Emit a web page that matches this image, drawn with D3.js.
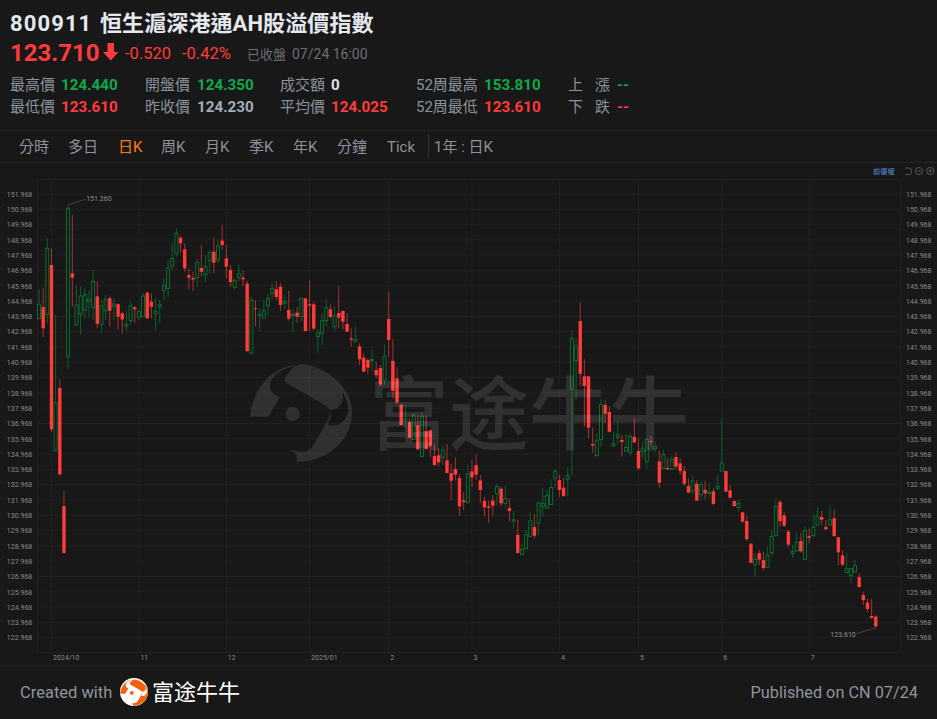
<!DOCTYPE html>
<html><head><meta charset="utf-8">
<style>html,body{margin:0;padding:0;background:#181818;overflow:hidden}svg{display:block}
text{font-family:Roboto,"Noto Sans CJK TC",sans-serif}</style>
<script src="https://cdn.jsdelivr.net/npm/d3@7/dist/d3.min.js"></script></head><body><svg id="c" width="937" height="719"></svg>
<script>
const highs=[145.74,145.84,149.07,148.42,144.06,139.85,132.55,151.26,150.60,146.02,
145.91,145.80,145.69,147.00,146.24,145.04,145.37,145.26,145.15,144.82,
144.28,144.34,144.93,144.65,144.49,145.52,145.58,145.47,145.15,145.04,
146.46,147.65,148.79,149.72,149.22,148.74,147.11,146.89,147.76,148.63,
147.98,148.31,149.14,149.00,149.94,148.63,147.33,146.46,147.37,147.00,
146.30,145.26,145.04,144.50,145.04,145.43,146.17,146.28,146.13,145.37,
145.65,144.50,144.60,145.15,145.15,146.30,144.93,143.14,144.17,145.08,
144.76,144.60,145.96,144.39,144.17,143.19,143.34,142.21,141.55,141.23,
141.77,141.01,140.79,142.14,145.58,142.47,140.64,138.29,138.18,137.30,
137.63,137.52,137.74,137.47,136.54,135.63,135.34,135.50,135.63,134.32,
134.75,133.67,132.51,134.32,134.58,134.95,133.60,132.18,131.92,132.29,
133.01,132.84,132.90,132.07,131.25,130.66,129.13,130.00,131.20,131.05,
131.86,132.73,132.68,133.32,133.99,133.64,133.40,134.14,143.08,142.53,
144.89,141.16,140.05,136.69,136.32,138.55,138.50,138.11,136.43,137.13,
136.21,136.28,136.32,137.30,136.00,135.78,135.93,136.15,135.82,135.17,
135.24,134.69,134.91,135.08,134.69,134.19,133.38,133.56,133.27,133.23,
133.23,133.06,132.73,133.60,137.26,133.86,132.95,131.97,131.97,131.20,
130.92,129.18,128.48,128.70,128.59,128.92,130.01,132.08,131.97,131.20,
130.01,129.03,129.85,129.83,130.22,130.11,131.05,131.49,131.25,130.66,
131.57,131.36,129.53,128.70,128.48,127.50,128.04,127.17,125.97,125.54,
125.50,124.44];
const lows=[143.80,142.60,143.51,136.43,135.15,133.58,128.48,140.51,144.60,143.38,
142.79,143.84,143.84,143.73,143.19,142.86,143.73,143.30,143.73,143.08,
142.86,142.97,143.40,143.51,143.73,143.93,143.80,143.84,143.03,143.51,
144.99,145.21,147.00,147.87,148.09,146.89,145.69,145.63,145.91,146.56,
146.24,146.78,146.78,147.48,148.31,146.46,145.91,145.69,146.24,145.95,
141.66,141.55,143.34,142.97,143.84,144.02,145.08,145.04,144.32,144.43,
143.69,142.95,143.56,143.62,142.99,143.01,143.08,141.60,142.10,143.30,
143.84,142.97,143.19,143.12,142.95,141.99,142.30,140.79,140.31,140.20,
140.36,139.92,139.37,139.48,141.34,138.61,138.24,136.85,136.69,136.00,
135.89,135.23,134.78,135.23,134.76,134.19,134.14,134.25,133.71,131.97,
133.23,130.92,131.31,131.77,132.84,133.27,131.75,130.88,130.48,130.92,
131.59,131.57,131.42,130.55,130.09,128.48,128.37,128.74,129.57,129.46,
129.68,130.88,131.38,131.64,132.73,132.14,132.18,132.23,133.56,138.50,
139.44,136.76,136.00,135.06,134.84,135.45,136.98,136.37,135.45,135.67,
134.80,135.08,134.80,135.67,133.93,134.69,133.99,135.45,135.06,132.77,
133.97,133.93,133.93,133.97,133.60,132.88,132.40,132.29,131.90,131.97,
132.01,132.08,131.64,132.62,133.84,132.49,132.08,131.53,131.20,130.49,
129.31,127.83,126.96,127.72,127.35,127.54,128.33,129.57,130.22,130.18,
128.87,128.20,128.59,128.52,128.07,129.13,129.53,130.31,130.33,130.01,
130.31,129.57,127.72,127.65,127.17,126.58,127.17,126.26,125.10,124.67,
124.23,123.61];
const opens=[143.82,144.58,144.10,147.33,135.19,139.29,131.57,141.33,146.78,143.40,
144.12,144.38,144.93,144.56,145.28,143.45,144.34,145.15,144.60,144.76,
144.17,143.32,143.69,144.56,143.91,143.95,145.52,144.93,144.12,144.60,
145.67,145.80,147.26,148.09,149.11,148.35,146.67,146.48,146.50,147.13,
146.70,147.61,148.20,147.65,148.92,147.76,147.00,145.87,146.52,146.50,
146.11,141.57,144.50,144.02,143.86,144.67,145.45,145.74,145.91,144.82,
144.39,144.02,144.21,143.95,145.15,144.76,144.76,142.64,142.86,143.69,
144.43,143.30,144.19,144.32,143.47,142.53,142.32,142.01,141.27,141.12,
141.07,140.46,140.59,139.77,143.80,141.07,139.92,138.18,137.15,137.06,
135.93,136.85,134.80,136.48,136.52,134.84,134.89,134.73,134.56,133.73,
133.99,133.40,131.94,131.79,133.84,134.25,133.25,131.90,131.55,131.92,
132.38,132.71,131.75,131.44,130.59,129.70,128.39,128.78,129.59,130.20,
130.46,131.53,131.44,131.68,133.40,133.27,132.77,133.32,139.20,141.07,
143.67,140.05,140.05,135.63,134.86,135.93,138.18,137.72,135.50,136.06,
135.89,135.17,135.06,136.08,135.17,135.15,134.49,135.82,135.32,134.49,
134.02,134.06,133.97,134.78,134.36,133.86,132.88,132.55,133.03,132.32,
132.64,132.40,132.53,132.73,133.86,133.86,132.60,131.90,131.47,131.16,
130.59,129.11,127.72,128.50,128.04,127.57,128.52,129.64,131.84,130.96,
129.90,128.48,128.65,129.29,128.09,129.61,129.64,130.33,130.86,130.20,
130.33,130.77,129.53,128.35,127.22,127.02,127.26,126.93,125.76,125.26,
124.38,124.35];
const closes=[144.76,143.19,148.42,136.58,138.33,133.64,128.50,151.03,146.50,144.71,
145.30,145.41,145.10,146.26,143.49,144.65,145.08,144.34,144.78,143.95,
143.77,143.45,144.65,144.43,144.28,145.30,143.84,144.60,144.28,144.73,
145.98,147.11,147.76,149.40,148.74,147.11,146.50,146.37,147.50,146.89,
147.22,148.13,147.48,148.59,148.63,147.22,146.22,146.30,146.76,146.39,
141.70,145.02,144.47,144.12,144.34,145.15,145.80,145.24,144.71,144.95,
143.82,144.10,143.95,145.15,143.01,144.67,143.17,142.90,143.69,144.56,
143.93,144.02,143.89,143.62,142.97,142.45,142.47,141.16,140.36,140.62,
141.16,140.12,139.51,141.36,142.43,139.09,138.35,136.87,137.30,136.04,
137.52,135.28,137.44,135.30,135.50,134.25,134.43,135.23,133.73,133.23,
133.62,131.55,131.83,133.67,133.45,133.62,132.62,131.49,131.46,131.59,
132.84,131.75,132.07,131.25,130.68,128.50,128.74,129.70,130.61,129.63,
131.77,131.75,132.27,132.79,133.84,132.62,132.23,133.56,142.53,142.05,
140.22,139.42,136.69,135.52,135.84,138.20,137.59,136.43,135.65,136.24,
135.76,135.41,136.13,135.73,134.04,135.30,135.93,135.78,135.47,133.10,
134.95,133.97,134.63,134.15,133.86,133.03,132.45,133.23,131.92,132.97,
132.40,132.47,131.71,132.86,134.39,132.51,132.12,131.57,131.75,130.55,
129.40,127.87,128.09,128.07,127.52,128.37,129.59,131.55,130.59,130.29,
129.05,128.61,129.20,128.61,129.98,129.50,130.18,130.92,130.68,130.05,
130.68,129.61,128.55,127.74,127.48,127.48,127.70,126.28,125.43,124.84,
124.25,123.71];
const yTickValues=[151.968,150.968,149.968,148.968,147.968,146.968,145.968,144.968,143.968,142.968,141.968,140.968,139.968,138.968,137.968,136.968,135.968,134.968,133.968,132.968,131.968,130.968,129.968,128.968,127.968,126.968,125.968,124.968,123.968,122.968];
const monthCandleIndex=[3,24,45,65,84,104,125,144,164,185];
const monthLabels=["2024/10","11","12","2025/01","2","3","4","5","6","7"];
const tabLabels=["分時","多日","日K","周K","月K","季K","年K","分鐘","Tick"];
const tabStarts=[19,68,118,161,205,249,293,337,387];
const statLabels=[["最高價","最低價"],["開盤價","昨收價"],["成交額","平均價"],["52周最高","52周最低"]];
const statValues=[["124.440","123.610"],["124.350","124.230"],["0","124.025"],["153.810","123.610"]];
const statColors=[["#0fa84a","#ff3b3b"],["#0fa84a","#a3adba"],["#dfe3e8","#ff3b3b"],["#0fa84a","#ff3b3b"]];

const BG="#181818",RED="#ff3b3b",GREEN="#0a7534",MUTED="#8b929b";
const svg=d3.select("#c");
function T(sel,x,y,s,size,fill,opt={}){const t=sel.append("text").attr("x",x).attr("y",y).attr("font-size",size).attr("fill",fill).text(s);
 for(const k in opt)t.attr(k,opt[k]);return t;}
svg.append("rect").attr("width",937).attr("height",719).attr("fill",BG);

// header
T(svg,10,31,"800911",22,"#e4e8ee",{"font-weight":700,"letter-spacing":"1.1px"});
T(svg,100,31,"恒生滬深港通AH股溢價指數",22,"#e4e8ee",{"font-weight":700,"letter-spacing":"0.1px"});
T(svg,10,61,"123.710",24,RED,{"font-weight":700});
svg.append("path").attr("d","M107.5 43H114V52H118.5L110.7 60.5L103 52H107.5Z").attr("fill",RED);
T(svg,125,59,"-0.520",16.5,RED);
T(svg,182,59,"-0.42%",16.5,RED);
T(svg,247,59,"已收盤",13,"#6a6f76");
T(svg,292,59,"07/24 16:00",14,"#6a6f76");
const statLabelX=[10,145,280,416],statValueX=[61,197,331,484],rowY=[90,112];
statLabels.forEach((c,i)=>c.forEach((s,j)=>{
 T(svg,statLabelX[i],rowY[j],s,15,MUTED);
 T(svg,statValueX[i],rowY[j],statValues[i][j],15.2,statColors[i][j],{"font-weight":700});
}));
T(svg,568,90,"上",15,MUTED);T(svg,595,90,"漲",15,MUTED);T(svg,617,90,"--",15,"#0fa84a",{"font-weight":700});
T(svg,568,112,"下",15,MUTED);T(svg,595,112,"跌",15,MUTED);T(svg,617,112,"--",15,RED,{"font-weight":700});
[130,162].forEach(y=>svg.append("line").attr("x1",0).attr("x2",937).attr("y1",y+.5).attr("y2",y+.5).attr("stroke","#242424"));
tabLabels.forEach((s,i)=>T(svg,tabStarts[i],152,s,15,i==2?"#ff7a1a":MUTED));
svg.append("line").attr("x1",428.5).attr("x2",428.5).attr("y1",134).attr("y2",158).attr("stroke","#333");
T(svg,434,152,"1年 : 日K",15,MUTED);

// toolbar
T(svg,873,174,"前復權",7.3,"#5e93dc");
const tb=svg.append("g").attr("fill","none").attr("stroke","#666").attr("stroke-width",.8);
tb.append("path").attr("d","M905 168H908.5A3.3 3.3 0 0 1 908.5 174.6H905");
tb.append("circle").attr("cx",919).attr("cy",171).attr("r",3.6);
tb.append("path").attr("d","M917 171H921");
tb.append("circle").attr("cx",930.3).attr("cy",171).attr("r",3.6);
tb.append("path").attr("d","M928.3 171H932.3M930.3 169V173");

// scales
const n=closes.length;
const x=d3.scaleLinear().domain([0,n-1]).range([39,875.8]);
const y=d3.scaleLinear().domain([yTickValues[0],yTickValues[yTickValues.length-1]]).range([194,637.7]);
const L=37.5,R=900.5,TOP=179.5,BOT=652.5;
const GRID="#212121";
const g=svg.append("g");
g.append("rect").attr("x",L).attr("y",TOP).attr("width",R-L).attr("height",BOT-TOP).attr("fill","none").attr("stroke",GRID);
g.append("g").selectAll("line").data(yTickValues).join("line")
 .attr("x1",L).attr("x2",R).attr("y1",d=>y(d)).attr("y2",d=>y(d)).attr("stroke",GRID);
g.append("g").selectAll("line").data(monthCandleIndex).join("line")
 .attr("x1",d=>x(d)).attr("x2",d=>x(d)).attr("y1",TOP).attr("y2",BOT).attr("stroke",GRID);

// axes
const yFmt=d=>d.toFixed(3);
function styleAxis(a){a.select(".domain").remove();a.selectAll("line").remove();
 a.selectAll("text").attr("fill","#858b93").attr("font-size",7).style("font-family","Roboto,sans-serif");}
svg.append("g").attr("transform","translate(32.3,0)").call(d3.axisLeft(y).tickValues(yTickValues).tickFormat(yFmt).tickSize(0).tickPadding(0)).call(styleAxis);
svg.append("g").attr("transform","translate(906,0)").call(d3.axisRight(y).tickValues(yTickValues).tickFormat(yFmt).tickSize(0).tickPadding(0)).call(styleAxis);
const xa=svg.append("g").attr("transform","translate(0,653)").call(d3.axisBottom(x).tickValues(monthCandleIndex).tickFormat((d,i)=>monthLabels[i]).tickSize(0).tickPadding(2)).call(styleAxis);
xa.selectAll("text").attr("text-anchor","start").attr("dx",1);

// candles
const idx=d3.range(n);
const up=i=>closes[i]>opens[i];
const BW=3.4;
const cg=svg.append("g");
cg.selectAll("line.w").data(idx).join("line").attr("class","w")
 .attr("x1",x).attr("x2",x).attr("y1",i=>y(highs[i])).attr("y2",i=>y(lows[i]))
 .attr("stroke",i=>up(i)?GREEN:"#e23434").attr("stroke-width",.75);
cg.selectAll("rect.b").data(idx).join("rect").attr("class","b")
 .attr("x",i=>x(i)-(up(i)?BW/2-.2:BW/2)).attr("width",i=>up(i)?BW-.4:BW)
 .attr("y",i=>y(Math.max(opens[i],closes[i])))
 .attr("height",i=>Math.max(1,Math.abs(y(opens[i])-y(closes[i]))))
 .attr("fill",i=>up(i)?BG:RED)
 .attr("stroke",i=>up(i)?GREEN:"none").attr("stroke-width",.9);

// extreme labels
const iMax=d3.maxIndex(highs),iMin=d3.minIndex(lows);
const ann=svg.append("g");
ann.append("line").attr("x1",x(iMax)).attr("y1",y(highs[iMax])).attr("x2",x(iMax)+17).attr("y2",y(highs[iMax])-5.5).attr("stroke","#555").attr("stroke-width",.7);
T(ann,x(iMax)+18,y(highs[iMax])-4,d3.format(".3f")(highs[iMax]),7,MUTED);
ann.append("line").attr("x1",x(iMin)).attr("y1",y(lows[iMin])).attr("x2",x(iMin)-19).attr("y2",y(lows[iMin])+5.5).attr("stroke","#555").attr("stroke-width",.7);
T(ann,x(iMin)-20,y(lows[iMin])+9,d3.format(".3f")(lows[iMin]),7,MUTED,{"text-anchor":"end"});

// watermark
const lobeA="M15 185C22 100 85 30 160 31C115 38 75 62 75 95C77 115 92 122 105 125L70 185Z";
const lobeB="M125 62C135 45 150 33 160 31C172 14 320 60 321 170C322 255 245 322 155 320L155 298L130 278C145 288 180 300 200 278C225 240 240 210 253 185C258 172 255 160 240 150L130 88C118 80 115 72 125 62Z";
const crescent="M292 108C300 140 285 165 255 165L258 185L248 208C280 222 305 195 310 170C310 150 302 125 292 108Z";
function logo(sel,fill,cut){
 sel.append("path").attr("d",lobeA).attr("fill",fill);
 sel.append("path").attr("d",lobeB).attr("fill",fill);
 sel.append("path").attr("d",crescent).attr("fill",cut);
 sel.append("circle").attr("cx",143).attr("cy",177).attr("r",21).attr("fill",fill);
}
const wm=svg.append("g").attr("opacity",.1);
logo(wm.append("g").attr("transform","translate(245,355) scale(.3333)"),"#fff","#000");
T(wm,369,443,"富途牛牛",80,"#fff",{"style":'font-family:"Noto Sans CJK SC";font-weight:500'});

// footer
svg.append("line").attr("x1",0).attr("x2",937).attr("y1",665.5).attr("y2",665.5).attr("stroke","#242424");
T(svg,20,698,"Created with",16.5,"#8e959e");
svg.append("circle").attr("cx",134).attr("cy",692).attr("r",14).attr("fill","#fff");
logo(svg.append("g").attr("transform","translate(118.9,676.9) scale(.0905)"),"#f5620e","#fff");
T(svg,152,700,"富途牛牛",22,"#fff",{"style":'font-family:"Noto Sans CJK SC"'});
T(svg,918,698,"Published on CN 07/24",16.3,"#8e959e",{"text-anchor":"end"});
</script></body></html>
